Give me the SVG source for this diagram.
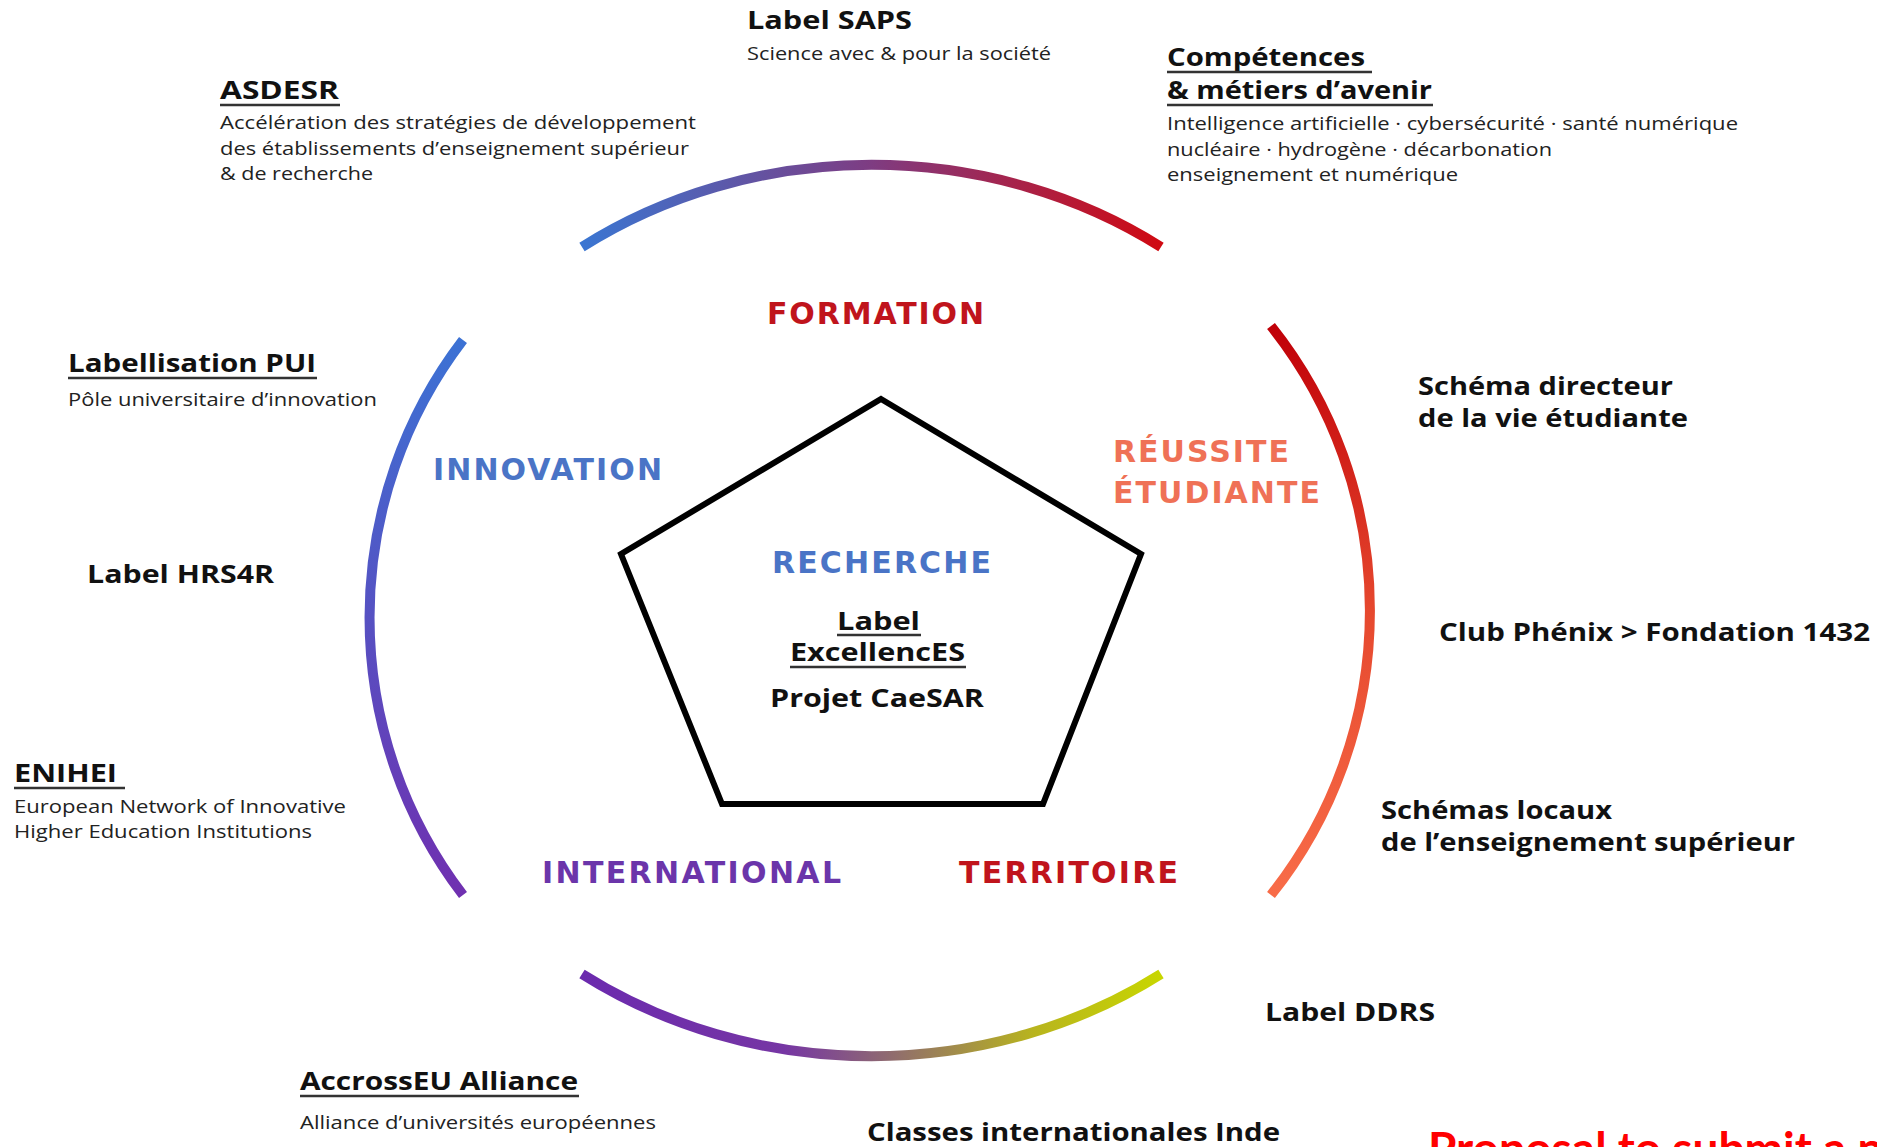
<svg xmlns="http://www.w3.org/2000/svg" width="1877" height="1147" viewBox="0 0 1877 1147">
<style>
  .bold { font-family: "Open Sans", "Noto Sans", "DejaVu Sans", sans-serif; font-weight: 700; fill: #111; font-size: 25px; }
  .desc { font-family: "Open Sans", "Noto Sans", "DejaVu Sans", sans-serif; font-weight: 400; fill: #222; font-size: 19px; }
  .cat { font-family: "DejaVu Sans", "Open Sans", sans-serif; font-weight: 700; font-size: 30px; }
  .ul { stroke: #333; stroke-width: 2.5; }
  .arc { fill: none; stroke-width: 10; stroke-linecap: butt; }
</style>
<defs>
  <linearGradient id="gTop" gradientUnits="userSpaceOnUse" x1="581" y1="0" x2="1161" y2="0">
    <stop offset="0" stop-color="#3a76d2"/>
    <stop offset="0.5" stop-color="#7e3c82"/>
    <stop offset="1" stop-color="#d00a12"/>
  </linearGradient>
  <linearGradient id="gRight" gradientUnits="userSpaceOnUse" x1="0" y1="326" x2="0" y2="895">
    <stop offset="0" stop-color="#c00008"/>
    <stop offset="0.5" stop-color="#e6482e"/>
    <stop offset="1" stop-color="#f86c48"/>
  </linearGradient>
  <linearGradient id="gLeft" gradientUnits="userSpaceOnUse" x1="0" y1="340" x2="0" y2="895">
    <stop offset="0" stop-color="#3c72d4"/>
    <stop offset="1" stop-color="#7030b0"/>
  </linearGradient>
  <linearGradient id="gBottom" gradientUnits="userSpaceOnUse" x1="581" y1="0" x2="1161" y2="0">
    <stop offset="0" stop-color="#6b2aae"/>
    <stop offset="0.35" stop-color="#7636a4"/>
    <stop offset="0.55" stop-color="#92706a"/>
    <stop offset="0.78" stop-color="#b8b41e"/>
    <stop offset="1" stop-color="#c8d600"/>
  </linearGradient>
</defs>
<rect width="1877" height="1147" fill="#ffffff"/>

<g id="ring">
  <path class="arc" stroke="url(#gTop)" d="M 582 247 A 502 449 0 0 1 1161 247"/>
  <path class="arc" stroke="url(#gRight)" d="M 1271 326 A 437 449 0 0 1 1271 895"/>
  <path class="arc" stroke="url(#gLeft)" d="M 463 340 A 437 449 0 0 0 463 895"/>
  <path class="arc" stroke="url(#gBottom)" d="M 582 974 A 502 449 0 0 0 1161 974"/>
</g>

<g id="recherche">
  <polygon points="881,399 1141,554 1043,804 722,804 621,554" fill="none" stroke="#000" stroke-width="6" stroke-linejoin="miter"/>
  <text class="cat" x="772" y="573" fill="#4a74c6" textLength="219" lengthAdjust="spacing">RECHERCHE</text>
  <text class="bold" x="837" y="630" textLength="83" lengthAdjust="spacingAndGlyphs">Label</text>
  <line class="ul" x1="837" y1="635" x2="921" y2="635"/>
  <text class="bold" x="790" y="661" textLength="175" lengthAdjust="spacingAndGlyphs">ExcellencES</text>
  <line class="ul" x1="790" y1="667" x2="966" y2="667"/>
  <text class="bold" x="770" y="707" textLength="214" lengthAdjust="spacingAndGlyphs">Projet CaeSAR</text>
</g>

<g id="formation">
  <text class="cat" x="767" y="324" fill="#c0141c" textLength="217" lengthAdjust="spacing">FORMATION</text>
</g>
<g id="innovation">
  <text class="cat" x="433" y="480" fill="#4a74c6" textLength="229" lengthAdjust="spacing">INNOVATION</text>
</g>
<g id="reussite">
  <text class="cat" x="1113" y="462" fill="#ef7156" textLength="176" lengthAdjust="spacing">RÉUSSITE</text>
  <text class="cat" x="1113" y="503" fill="#ef7156" textLength="207" lengthAdjust="spacing">ÉTUDIANTE</text>
</g>
<g id="international">
  <text class="cat" x="542" y="883" fill="#6b35aa" textLength="299" lengthAdjust="spacing">INTERNATIONAL</text>
</g>
<g id="territoire">
  <text class="cat" x="959" y="883" fill="#c0141c" textLength="219" lengthAdjust="spacing">TERRITOIRE</text>
</g>

<g id="saps">
  <text class="bold" x="747" y="29" textLength="165" lengthAdjust="spacingAndGlyphs">Label SAPS</text>
  <text class="desc" x="747" y="60" textLength="304" lengthAdjust="spacingAndGlyphs">Science avec &amp; pour la société</text>
</g>
<g id="asdesr">
  <text class="bold" x="220" y="99" textLength="119" lengthAdjust="spacingAndGlyphs">ASDESR</text>
  <line class="ul" x1="220" y1="105" x2="340" y2="105"/>
  <text class="desc" x="220" y="129" textLength="476" lengthAdjust="spacingAndGlyphs">Accélération des stratégies de développement</text>
  <text class="desc" x="220" y="155" textLength="469" lengthAdjust="spacingAndGlyphs">des établissements d’enseignement supérieur</text>
  <text class="desc" x="220" y="180" textLength="153" lengthAdjust="spacingAndGlyphs">&amp; de recherche</text>
</g>
<g id="competences">
  <text class="bold" x="1167" y="66" textLength="198" lengthAdjust="spacingAndGlyphs">Compétences</text>
  <line class="ul" x1="1167" y1="72" x2="1372" y2="72"/>
  <text class="bold" x="1167" y="99" textLength="265" lengthAdjust="spacingAndGlyphs">&amp; métiers d’avenir</text>
  <line class="ul" x1="1167" y1="105" x2="1433" y2="105"/>
  <text class="desc" x="1167" y="130" textLength="571" lengthAdjust="spacingAndGlyphs">Intelligence artificielle · cybersécurité · santé numérique</text>
  <text class="desc" x="1167" y="156" textLength="385" lengthAdjust="spacingAndGlyphs">nucléaire · hydrogène · décarbonation</text>
  <text class="desc" x="1167" y="181" textLength="291" lengthAdjust="spacingAndGlyphs">enseignement et numérique</text>
</g>
<g id="pui">
  <text class="bold" x="68" y="372" textLength="248" lengthAdjust="spacingAndGlyphs">Labellisation PUI</text>
  <line class="ul" x1="68" y1="378" x2="317" y2="378"/>
  <text class="desc" x="68" y="406" textLength="309" lengthAdjust="spacingAndGlyphs">Pôle universitaire d’innovation</text>
</g>
<g id="hrs4r">
  <text class="bold" x="87" y="583" textLength="187" lengthAdjust="spacingAndGlyphs">Label HRS4R</text>
</g>
<g id="enihei">
  <text class="bold" x="14" y="782" textLength="103" lengthAdjust="spacingAndGlyphs">ENIHEI</text>
  <line class="ul" x1="14" y1="788" x2="125" y2="788"/>
  <text class="desc" x="14" y="813" textLength="332" lengthAdjust="spacingAndGlyphs">European Network of Innovative</text>
  <text class="desc" x="14" y="838" textLength="298" lengthAdjust="spacingAndGlyphs">Higher Education Institutions</text>
</g>
<g id="vie-etudiante">
  <text class="bold" x="1418" y="395" textLength="255" lengthAdjust="spacingAndGlyphs">Schéma directeur</text>
  <text class="bold" x="1418" y="427" textLength="270" lengthAdjust="spacingAndGlyphs">de la vie étudiante</text>
</g>
<g id="phenix">
  <text class="bold" x="1439" y="641" textLength="431" lengthAdjust="spacingAndGlyphs">Club Phénix &gt; Fondation 1432</text>
</g>
<g id="schemas-locaux">
  <text class="bold" x="1381" y="819" textLength="231" lengthAdjust="spacingAndGlyphs">Schémas locaux</text>
  <text class="bold" x="1381" y="851" textLength="414" lengthAdjust="spacingAndGlyphs">de l’enseignement supérieur</text>
</g>
<g id="ddrs">
  <text class="bold" x="1265" y="1021" textLength="170" lengthAdjust="spacingAndGlyphs">Label DDRS</text>
</g>
<g id="accrosseu">
  <text class="bold" x="300" y="1090" textLength="278" lengthAdjust="spacingAndGlyphs">AccrossEU Alliance</text>
  <line class="ul" x1="300" y1="1096" x2="579" y2="1096"/>
  <text class="desc" x="300" y="1129" textLength="356" lengthAdjust="spacingAndGlyphs">Alliance d’universités européennes</text>
</g>
<g id="inde">
  <text class="bold" x="867" y="1141" textLength="413" lengthAdjust="spacingAndGlyphs">Classes internationales Inde</text>
</g>
<g id="proposal">
  <text x="1428" y="1165" font-family="Lato, 'Open Sans', sans-serif" font-weight="700" font-size="46" fill="#ff0000">Proposal to submit a n</text>
</g>
</svg>
